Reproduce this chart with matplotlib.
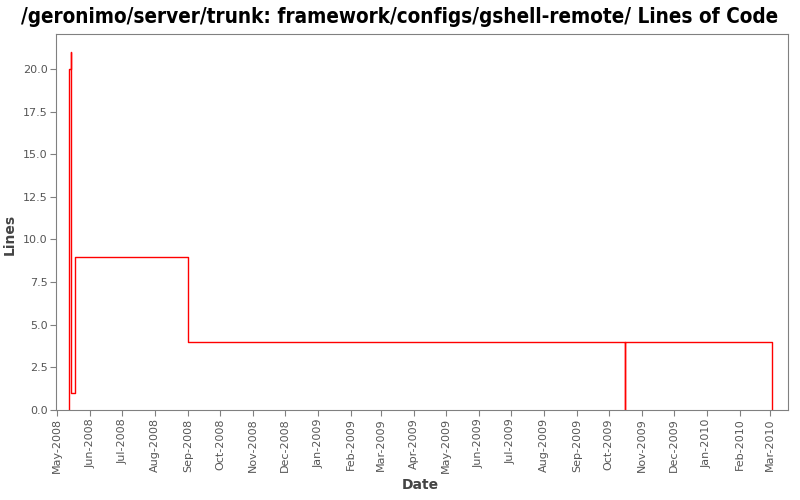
import matplotlib
matplotlib.use("Agg")
import matplotlib.pyplot as plt
import matplotlib.dates as mdates
import numpy as np
import datetime as dt
from matplotlib import font_manager
from matplotlib.font_manager import FontProperties

dates = ["2008-05-12", "2008-05-12", "2008-05-14", "2008-05-14", "2008-05-18",
         "2008-09-01", "2009-10-16", "2009-10-16", "2010-03-03"]
lines = [0, 20, 21, 1, 9, 4, 0, 4, 0]
title = "/geronimo/server/trunk: framework/configs/gshell-remote/ Lines of Code"
tick_months = ["2008-05", "2008-06", "2008-07", "2008-08", "2008-09", "2008-10", "2008-11",
               "2008-12", "2009-01", "2009-02", "2009-03", "2009-04", "2009-05", "2009-06",
               "2009-07", "2009-08", "2009-09", "2009-10", "2009-11", "2009-12", "2010-01",
               "2010-02", "2010-03"]

x = [dt.datetime.strptime(d, "%Y-%m-%d") for d in dates]
ticks = [dt.datetime.strptime(m + "-01", "%Y-%m-%d") for m in tick_months]

cond = None
for f in font_manager.fontManager.ttflist:
    fn = f.fname.lower()
    if ("condensed" in fn or "narrow" in fn) and "bold" in fn and "oblique" not in fn and "italic" not in fn:
        cond = f.fname
        break
if cond:
    tprop = FontProperties(fname=cond, size=15)
else:
    tprop = FontProperties(family="DejaVu Sans", weight="bold", size=15)

W, H = 800.0, 500.0
L, R, T, B = 56.0, 788.3, 34.0, 410.0

fig = plt.figure(figsize=(8, 5), dpi=100)
ax = fig.add_axes([L / W, 1 - B / H, (R - L) / W, (B - T) / H])
ax.plot(x, lines, drawstyle="steps-post", color="#ff0000", lw=1.0)

ax.set_xlim(dt.datetime(2008, 4, 29, 20), dt.datetime(2010, 3, 18, 12))
ax.set_ylim(0, 22.05)
ax.set_yticks(np.arange(0, 20.01, 2.5))
ax.yaxis.set_major_formatter(matplotlib.ticker.FormatStrFormatter("%.1f"))
ax.set_xticks(ticks)
ax.xaxis.set_major_formatter(mdates.DateFormatter("%b-%Y"))
for lab in ax.get_xticklabels():
    lab.set_rotation(90)
for s in ax.spines.values():
    s.set_color("#808080")
ax.tick_params(axis="both", colors="#808080", labelcolor="#555555", labelsize=8,
               length=4, direction="out", pad=2)
ax.set_xlabel("Date", fontsize=10, color="#444444", fontweight="bold", va="center")
ax.set_ylabel("Lines", fontsize=10, color="#444444", fontweight="bold", va="center")
ax.xaxis.set_label_coords((420 - L) / (R - L), -(485 - B) / (B - T))
ax.yaxis.set_label_coords(-(L - 10) / (R - L), (B - 234) / (B - T))
t = fig.text(0.5, 1 - 17 / H, title, ha="center", va="center", fontproperties=tprop, color="black")
fig.canvas.draw()
w = t.get_window_extent().width
if w > 0:
    tprop.set_size(15 * 762.0 / w)
    t.set_fontproperties(tprop)
fig.savefig("out.png", dpi=100, facecolor="white")
